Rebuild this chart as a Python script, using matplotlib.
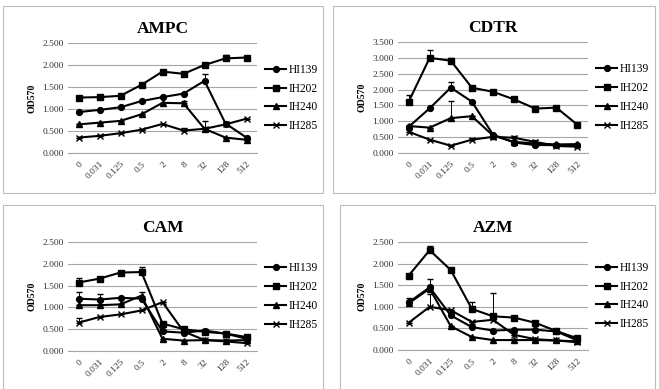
import matplotlib
matplotlib.use("Agg")
import matplotlib.pyplot as plt
from matplotlib.patches import Rectangle
from matplotlib.ticker import FormatStrFormatter

# concentrations on the x axis
concs = ["0", "0.031", "0.125", "0.5", "2", "8", "32", "128", "512"]
strains = ["HI139", "IH202", "IH240", "IH285"]
markers = ["o", "s", "^", "x"]

# AMPC
ampc_hi139 = [0.93, 0.98, 1.04, 1.18, 1.27, 1.35, 1.64, 0.67, 0.35]
ampc_ih202 = [1.26, 1.27, 1.30, 1.55, 1.85, 1.80, 2.00, 2.15, 2.17]
ampc_ih240 = [0.65, 0.69, 0.73, 0.88, 1.14, 1.13, 0.55, 0.35, 0.30]
ampc_ih285 = [0.35, 0.39, 0.45, 0.53, 0.66, 0.51, 0.55, 0.65, 0.78]
ampc_err_hi139 = [0, 0, 0, 0, 0, 0, 0.16, 0, 0]
ampc_err_ih202 = [0, 0, 0, 0, 0, 0, 0, 0.08, 0]
ampc_err_ih240 = [0, 0, 0, 0, 0, 0.06, 0, 0, 0]
ampc_err_ih285 = [0, 0, 0, 0, 0, 0.06, 0.18, 0, 0]

# CDTR
cdtr_hi139 = [0.82, 1.41, 2.06, 1.62, 0.58, 0.33, 0.25, 0.25, 0.25]
cdtr_ih202 = [1.61, 3.00, 2.91, 2.06, 1.93, 1.69, 1.40, 1.43, 0.89]
cdtr_ih240 = [0.85, 0.80, 1.10, 1.16, 0.55, 0.35, 0.30, 0.27, 0.28]
cdtr_ih285 = [0.67, 0.42, 0.23, 0.42, 0.51, 0.48, 0.35, 0.22, 0.20]
cdtr_err_hi139 = [0, 0, 0.18, 0, 0, 0, 0, 0, 0]
cdtr_err_ih202 = [0.22, 0.25, 0.08, 0, 0, 0, 0.08, 0, 0]
cdtr_err_ih240 = [0, 0, 0.55, 0, 0, 0, 0, 0, 0]
cdtr_err_ih285 = [0, 0, 0, 0.06, 0, 0.05, 0.05, 0, 0]

# CAM
cam_hi139 = [1.20, 1.18, 1.22, 1.20, 0.45, 0.42, 0.47, 0.40, 0.28]
cam_ih202 = [1.57, 1.66, 1.80, 1.81, 0.63, 0.50, 0.44, 0.40, 0.32]
cam_ih240 = [1.05, 1.05, 1.07, 1.27, 0.28, 0.24, 0.25, 0.24, 0.25]
cam_ih285 = [0.65, 0.78, 0.84, 0.93, 1.12, 0.45, 0.25, 0.22, 0.18]
cam_err_hi139 = [0.16, 0.12, 0, 0, 0, 0, 0, 0, 0]
cam_err_ih202 = [0.11, 0, 0, 0.11, 0, 0, 0.05, 0, 0]
cam_err_ih240 = [0, 0, 0, 0.08, 0, 0, 0, 0, 0]
cam_err_ih285 = [0.10, 0, 0, 0, 0, 0, 0, 0, 0]

# AZM
azm_hi139 = [1.10, 1.45, 0.80, 0.53, 0.45, 0.47, 0.47, 0.43, 0.22]
azm_ih202 = [1.72, 2.31, 1.85, 0.95, 0.78, 0.75, 0.63, 0.44, 0.27]
azm_ih240 = [1.08, 1.42, 0.55, 0.30, 0.23, 0.23, 0.23, 0.22, 0.20]
azm_ih285 = [0.63, 1.00, 0.92, 0.65, 0.70, 0.35, 0.25, 0.22, 0.18]
azm_err_hi139 = [0.10, 0.20, 0, 0, 0, 0, 0, 0, 0]
azm_err_ih202 = [0, 0.10, 0, 0.17, 0, 0, 0, 0, 0]
azm_err_ih240 = [0, 0, 0, 0, 0, 0, 0, 0, 0]
azm_err_ih285 = [0, 0.30, 0, 0, 0.63, 0, 0, 0, 0]

panels = [
    ("AMPC", [ampc_hi139, ampc_ih202, ampc_ih240, ampc_ih285],
     [ampc_err_hi139, ampc_err_ih202, ampc_err_ih240, ampc_err_ih285], 2.5,
     (68, 257, 43, 153), (3, 323, 6, 193)),
    ("CDTR", [cdtr_hi139, cdtr_ih202, cdtr_ih240, cdtr_ih285],
     [cdtr_err_hi139, cdtr_err_ih202, cdtr_err_ih240, cdtr_err_ih285], 3.5,
     (398, 588, 42, 153), (333, 655, 6, 193)),
    ("CAM", [cam_hi139, cam_ih202, cam_ih240, cam_ih285],
     [cam_err_hi139, cam_err_ih202, cam_err_ih240, cam_err_ih285], 2.5,
     (68, 257, 242, 351), (3, 323, 205, 392)),
    ("AZM", [azm_hi139, azm_ih202, azm_ih240, azm_ih285],
     [azm_err_hi139, azm_err_ih202, azm_err_ih240, azm_err_ih285], 2.5,
     (398, 588, 242, 350), (340, 655, 205, 392)),
]

W, H = 659, 389
serif = ["Liberation Serif", "DejaVu Serif"]
plt.rcParams["font.family"] = serif

fig = plt.figure(figsize=(W / 100, H / 100), dpi=100)

for title, series, errs, ymax, (l, r, t, b), (bl, br, bt, bb) in panels:
    # chart border
    fig.patches.append(Rectangle((bl / W, 1 - bb / H), (br - bl) / W, (bb - bt) / H,
                                 transform=fig.transFigure, fill=False,
                                 edgecolor="#bdbdbd", linewidth=0.8))
    ax = fig.add_axes([l / W, 1 - b / H, (r - l) / W, (b - t) / H])
    x = list(range(len(concs)))
    for vals, err, mk, name in zip(series, errs, markers, strains):
        ax.errorbar(x, vals, yerr=[[0] * len(err), err], color="black",
                    linewidth=1.5, marker=mk, markersize=4.2 if mk != "x" else 5,
                    markeredgewidth=1.0, elinewidth=0.7, capsize=2.5, capthick=0.7,
                    label=name)
    ax.set_xlim(-0.5, len(concs) - 0.5)
    ax.set_ylim(0, ymax)
    ax.set_yticks([i * 0.5 for i in range(int(ymax / 0.5) + 1)])
    ax.yaxis.set_major_formatter(FormatStrFormatter("%.3f"))
    ax.set_xticks(x)
    ax.set_xticklabels(concs, rotation=45, ha="right", rotation_mode="anchor")
    ax.tick_params(axis="both", length=0, labelsize=6.8, colors="#333333", pad=3)
    ax.tick_params(axis="x", pad=5)
    ax.grid(axis="y", color="#a6a6a6", linewidth=0.8)
    ax.set_axisbelow(True)
    for s in ["top", "right", "left"]:
        ax.spines[s].set_visible(False)
    ax.spines["bottom"].set_color("#a6a6a6")
    ax.set_title(title, fontsize=12.5, fontweight="bold", pad=7)
    ax.set_ylabel("OD570", fontsize=7, fontweight="bold", labelpad=4)
    handles, labels = ax.get_legend_handles_labels()
    handles = [h[0] for h in handles]
    ax.legend(handles, labels, loc="center left", bbox_to_anchor=(1.02, 0.5),
              frameon=False, fontsize=8.3, handlelength=1.8, handletextpad=0.2,
              labelspacing=0.6, borderaxespad=0)

fig.savefig("out.png", dpi=100, facecolor="white")
